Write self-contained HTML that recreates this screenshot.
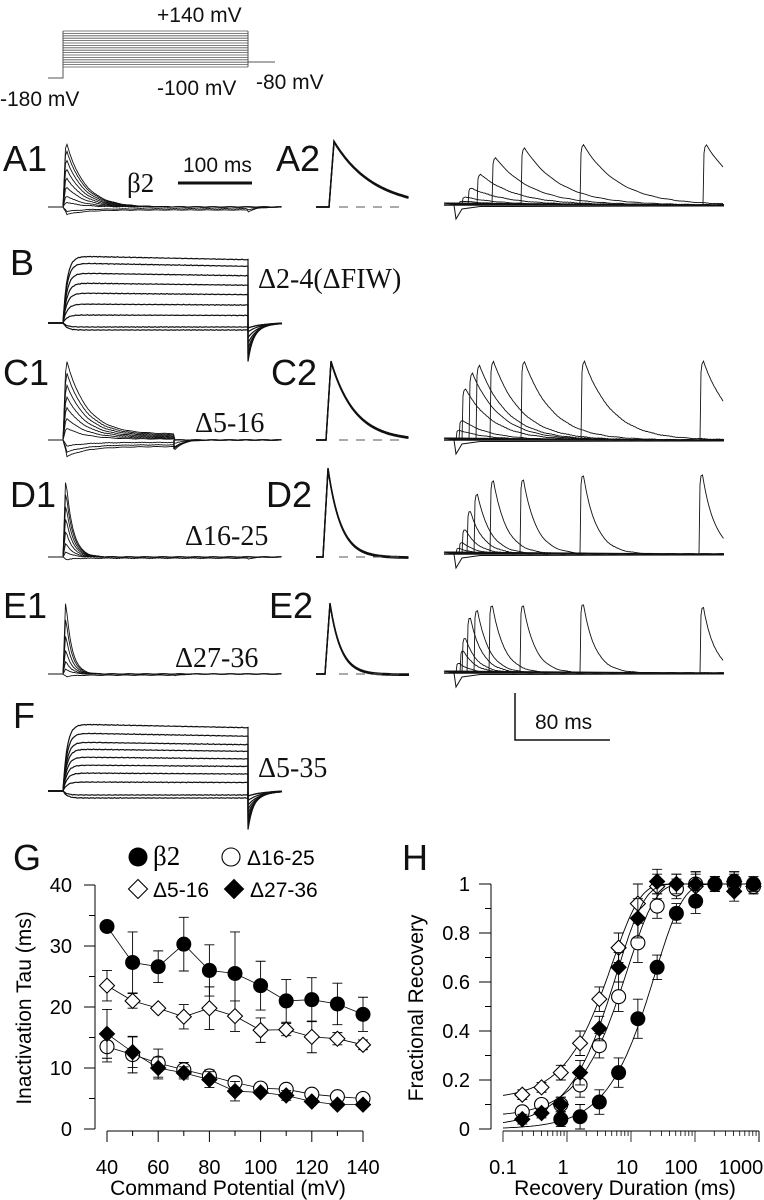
<!DOCTYPE html>
<html><head><meta charset="utf-8">
<style>
html,body{margin:0;padding:0;background:#fff;}
svg{display:block;}
.sans{font-family:"Liberation Sans",Arial,sans-serif;}
.serif{font-family:"Liberation Serif","Times New Roman",serif;}
</style></head>
<body>
<svg id="fig" width="764" height="1200" viewBox="0 0 764 1200" xmlns="http://www.w3.org/2000/svg">
<g id="traces"></g>
<g id="labels" fill="#111">
<text class="sans" x="157" y="22" font-size="21">+140 mV</text>
<text class="sans" x="0" y="106" font-size="21">-180 mV</text>
<text class="sans" x="157" y="95" font-size="21">-100 mV</text>
<text class="sans" x="256" y="89" font-size="21">-80 mV</text>
<text class="sans" x="3" y="171" font-size="36">A1</text>
<text class="sans" x="276" y="171" font-size="36">A2</text>
<text class="serif" x="127" y="192" font-size="27">β2</text>
<text class="sans" x="183" y="172" font-size="21">100 ms</text>
<text class="sans" x="10" y="275" font-size="36">B</text>
<text class="serif" x="258" y="288" font-size="28">Δ2-4(ΔFIW)</text>
<text class="sans" x="3" y="385" font-size="36">C1</text>
<text class="sans" x="271" y="385" font-size="36">C2</text>
<text class="serif" x="195" y="432" font-size="28">Δ5-16</text>
<text class="sans" x="10" y="507" font-size="36">D1</text>
<text class="sans" x="266" y="507" font-size="36">D2</text>
<text class="serif" x="185" y="545" font-size="28">Δ16-25</text>
<text class="sans" x="3" y="618" font-size="36">E1</text>
<text class="sans" x="269" y="618" font-size="36">E2</text>
<text class="serif" x="175" y="667" font-size="28">Δ27-36</text>
<text class="sans" x="13" y="728" font-size="36">F</text>
<text class="serif" x="258" y="777" font-size="28">Δ5-35</text>
<text class="sans" x="535" y="729" font-size="21">80 ms</text>
<text class="sans" x="13" y="870" font-size="36">G</text>
<text class="sans" x="402" y="870" font-size="36">H</text>
</g>
<g id="chartG"></g>
<g id="chartH"></g>
</svg>
<script>
// ---------- Chart G data ----------
const gVoltages = [40,50,60,70,80,90,100,110,120,130,140];
const gBeta2 = [33.2,27.3,26.6,30.3,26.0,25.5,23.5,21.0,21.2,20.5,18.8];
const gBeta2Err = [0,5.0,2.6,4.4,4.2,6.8,4.0,3.5,3.6,3.4,2.8];
const gD516 = [23.5,21.0,19.8,18.4,19.8,18.5,16.2,16.3,15.1,14.8,13.8];
const gD516Err = [2.5,1.2,0.5,2.0,3.5,2.5,2.0,1.0,2.6,1.0,0.8];
const gD1625 = [13.5,12.2,10.8,9.7,8.7,7.6,6.7,6.5,5.7,5.3,5.0];
const gD1625Err = [2.5,3.0,2.3,1.2,1.0,0.5,0.5,0.4,0.4,0.4,0.3];
const gD2736 = [15.6,12.6,10.0,9.2,8.1,6.2,6.0,5.5,4.5,4.0,4.0];
const gD2736Err = [4.0,2.5,1.8,1.0,1.3,1.6,0.4,0.8,0.5,0.5,0.3];
const gYTicks = [0,10,20,30,40];
const gXTicks = [40,60,80,100,120,140];
// ---------- Chart H data ----------
const hDur = [0.2,0.4,0.8,1.6,3.2,6.4,12.8,25.6,51.2,102.4,204.8,409.6,819.2,1638.4];
const hBeta2 = [null,null,0.04,0.05,0.11,0.23,0.45,0.66,0.88,0.93,1.0,1.01,1.0,1.03];
const hD516 = [0.14,0.17,0.23,0.35,0.53,0.74,0.92,0.99,1.0,0.99,1.0,1.01,0.99,null];
const hD1625 = [0.07,0.10,0.10,0.18,0.34,0.54,0.76,0.91,0.98,1.0,1.0,1.0,0.99,null];
const hD2736 = [0.04,0.065,0.10,0.23,0.41,0.66,0.86,1.01,1.0,1.0,1.0,0.97,1.0,null];
const hErr = [0.02,0.02,0.03,0.05,0.05,0.06,0.08,0.05,0.04,0.05,0.03,0.04,0.03,0.02];
const hFitTau = [23.7,5.1,8.8,6.0];
const hFitStart = [0.0,0.12,0.05,0.01];
const hYTicks = [0,0.2,0.4,0.6,0.8,1];
const hXTicks = [0.1,1,10,100,1000];
const hXTickLabels = ["0.1","1","10","100","1000"];
// ---------- Trace panel parameters ----------
const trainPeaksA = [459,462,468,477,492,521,580,703];
const trainHeightsA = [4,8,17,31,48,58,61,61];
const trainPeaksC = [456,459,462,469,476,490,521,581,700];
const trainHeightsC = [10,20,52,68,76,80,80,80,80];
const trainPeaksD = [456,459,462,467,474,490,520,580,699];
const trainHeightsD = [6,12,25,44,62,76,77,81,82];
const trainPeaksE = [456,460,462,467,474,489,520,580,700];
const trainHeightsE = [10,23,36,57,65,70,70,71,68];
const stepLevelsB = [67,60,50,40,30,19,8,-4,-7];
const stepLevelsF = [67,58,49,42,34,26,18,9,-4,-7];
const inactPeaksA1 = [70,62,52,42,32,22,12,5,-3,-5];

const NS='http://www.w3.org/2000/svg';
function mk(tag, attrs, parent){const e=document.createElementNS(NS,tag);for(const k in attrs)e.setAttribute(k,attrs[k]);parent.appendChild(e);return e;}
const T=document.getElementById('traces');
function pl(pts,parent,w,col){const e=mk('polyline',{points:pts.map(p=>p[0].toFixed(1)+','+p[1].toFixed(1)).join(' '),fill:'none',stroke:col||'#111','stroke-width':w||1},parent);return e;}
function jit(i){return Math.sin(i*2.1)*0.2+Math.sin(i*0.37)*0.2;}

// Protocol
const prot=mk('g',{},T);


pl([[48,78],[63,78],[63,31]],prot,1,'#555');
for(let i=0;i<16;i++){const y=31+i*2.4;pl([[63,y],[248,y]],prot,0.8,'#555');}
pl([[248,31],[248,67]],prot,1,'#555');
pl([[248,62],[275,62]],prot,1,'#555');

// Inactivating family (A1, C1, D1, E1)
function inactFamily(base,peaks,tau,sustain,stepEnd,name){
  const g=mk('g',{},T);
  
  
  peaks.forEach((h,k)=>{
    const pts=[[48,base],[63,base]];
    for(let x=64;x<=282;x+=1.5){
      let y;
      if(x<=stepEnd){y=base-(h*Math.exp(-(x-65)/tau)+(h>0?sustain*h/80:h*0.6));if(x<66)y=base-h*(x-63)/3;}
      else y=base+(h>0?0:-h*Math.exp(-(x-stepEnd)/8));
      pts.push([x,y+jit(x+k)]);
    }
    pl(pts,g,0.9);
  });
}
inactFamily(207,inactPeaksA1,18,0,248,'trace-a1');
inactFamily(440,[80,68,56,44,33,22,12,-4,-8,-11],20,6,174,'trace-c1');
inactFamily(557,[89,75,60,45,30,16,6,-2],7,0,248,'trace-d1');
inactFamily(674,[84,65,45,28,15,6,-2],6,0,174,'trace-e1');
pl([[174,440],[174,448],[180,444],[190,441]],T,1.5);

// Non-inactivating (B, F)
function stepFamily(base,levels,stepEnd,name){
  const g=mk('g',{},T);
  
  
  levels.forEach((h,k)=>{
    const pts=[[48,base],[63,base]];
    for(let x=63.5;x<=stepEnd;x+=1.5)pts.push([x,base-h*(1-Math.exp(-(x-63)/4))*(1-(x-63)*0.0003*(h>0?1:0))+jit(x*3+k)]);
    pts.push([stepEnd,base]);
    const a=Math.max(h,0)*0.5+5;
    pts.push([stepEnd,base+a]);
    for(let x=stepEnd+1;x<=282;x+=1.5)pts.push([x,base+a*Math.exp(-(x-stepEnd)/(6+k))]);
    pl(pts,g,1.2);
  });
}
stepFamily(323,stepLevelsB,248,'trace-b');
stepFamily(791,stepLevelsF,248,'trace-f');

// Single recovery test pulses (A2, C2, D2, E2)
function single(base,x0,h,tau,name){
  const g=mk('g',{},T);
  
  
  for(let k=0;k<3;k++){
    const pts=[[316,base],[x0,base]];
    for(let x=x0;x<=x0+5;x+=1)pts.push([x,base-h*(x-x0)/5*(1-k*0.01)]);
    for(let x=x0+6;x<=409;x+=1.5)pts.push([x,base-h*Math.exp(-(x-x0-5)/tau)+k*0.7]);
    pl(pts,g,1.4);
  }
  mk('line',{x1:339,y1:base,x2:400,y2:base,stroke:'#555','stroke-width':1,'stroke-dasharray':'9 8'},g);
}
single(207,329,66,40,'trace-a2');
single(440,326,79,24,'trace-c2');
single(557,323,89,13,'trace-d2');
single(674,325,71,11,'trace-e2');

// Recovery trains
function train(base,peaks,heights,tau,name){
  const g=mk('g',{},T);
  
  
  pl([[444,base],[724,base]],g,1.6);
  pl([[454,base],[456,base+14],[462,base+4],[480,base+1.5],[724,base+1]],g,1);
  peaks.forEach((p,i)=>{
    const h=heights[i];
    const pts=[[444,base-2],[p,base]];
    pts.push([p+1,base-h*0.85]);
    for(let x=p+2;x<=724;x+=1.5){const d=x-p-3;pts.push([x,base-h*(d<0?0.95:Math.exp(-d/tau))+jit(x+i)]);}
    pl(pts,g,0.9);
  });
}
train(205,trainPeaksA,trainHeightsA,36,'train-a2');
train(440,trainPeaksC,trainHeightsC,28,'train-c2');
train(554,trainPeaksD,trainHeightsD,13,'train-d2');
train(673,trainPeaksE,trainHeightsE,12,'train-e2');

// Scale bars
mk('line',{x1:178,y1:183,x2:252,y2:183,stroke:'#111','stroke-width':3},T);
mk('polyline',{points:'515,693 515,740 610,740',fill:'none',stroke:'#111','stroke-width':1.5},T);

// ---------- marker helper ----------
function marker(parent,type,x,y,s){
  s=s||7.5;let e;
  if(type==='fc')e=mk('circle',{cx:x,cy:y,r:s,fill:'#000'},parent);
  else if(type==='oc')e=mk('circle',{cx:x,cy:y,r:s-0.5,fill:'#fff',stroke:'#000','stroke-width':1.1},parent);
  else {e=mk('polygon',{points:`${x},${y-s} ${x+s},${y} ${x},${y+s} ${x-s},${y}`,fill:type==='fd'?'#000':'#fff',stroke:'#000','stroke-width':1.1},parent);}
  return e;
}

// ---------- Chart G ----------
const G=document.getElementById('chartG');
const xG=v=>107+(v-40)*2.56, yG=v=>1129-v*6.1;
mk('line',{x1:95,y1:yG(40),x2:95,y2:yG(0),stroke:'#000'},G);
for(let v=0;v<=40;v+=5)mk('line',{x1:v%10?89:84,y1:yG(v),x2:95,y2:yG(v),stroke:'#000'},G);
gYTicks.forEach(v=>{const t=mk('text',{x:72,y:yG(v)+7,'text-anchor':'end','font-size':20,class:'sans'},G);t.textContent=v;});
mk('line',{x1:xG(40),y1:1131,x2:xG(140),y2:1131,stroke:'#000'},G);
for(let v=40;v<=140;v+=10)mk('line',{x1:xG(v),y1:1131,x2:xG(v),y2:v%20?1136:1142,stroke:'#000'},G);
gXTicks.forEach(v=>{const t=mk('text',{x:xG(v),y:1174,'text-anchor':'middle','font-size':20,class:'sans'},G);t.textContent=v;});
let gt=mk('text',{x:228,y:1195,'text-anchor':'middle','font-size':21,class:'sans'},G);gt.textContent='Command Potential (mV)';


gt=mk('text',{x:0,y:0,'text-anchor':'middle','font-size':21,class:'sans',transform:'translate(31,1008) rotate(-90)'},G);gt.textContent='Inactivation Tau (ms)';


function gSeries(vals,errs,type,name){
  const s=mk('g',{},G);
  
  
  pl(gVoltages.map((v,i)=>[xG(v),yG(vals[i])]),s,0.8,'#000');
  gVoltages.forEach((v,i)=>{if(errs[i]>0){const x=xG(v);mk('path',{d:`M${x},${yG(vals[i]-errs[i])}V${yG(vals[i]+errs[i])}M${x-5},${yG(vals[i]-errs[i])}h10M${x-5},${yG(vals[i]+errs[i])}h10`,stroke:'#000','stroke-width':0.9,fill:'none'},s);}});
  gVoltages.forEach((v,i)=>{const m=marker(s,type,xG(v),yG(vals[i]));});
}
gSeries(gBeta2,gBeta2Err,'fc','g-series-beta2');
gSeries(gD516,gD516Err,'od','g-series-d5-16');
gSeries(gD1625,gD1625Err,'oc','g-series-d16-25');
gSeries(gD2736,gD2736Err,'fd','g-series-d27-36');
// legend
const lg=mk('g',{},G);


[['fc',138,857,'β2',153,'serif'],['oc',231,857,'Δ16-25',247,'sans'],['od',138,889,'Δ5-16',153,'sans'],['fd',234,889,'Δ27-36',250,'sans']].forEach(a=>{
  const m=marker(lg,a[0],a[1],a[2],9.5);
  
  const t=mk('text',{x:a[4],y:a[2]+8,'font-size':a[5]==='serif'?27:21,class:a[5]},lg);t.textContent=a[3];
  
  
});

// ---------- Chart H ----------
const H=document.getElementById('chartH');
const xH=v=>503+(Math.log10(v)+1)*64, yH=v=>1129-v*245;
mk('line',{x1:491,y1:yH(1),x2:491,y2:yH(0),stroke:'#000'},H);
for(let i=0;i<=10;i++){const v=i/10;mk('line',{x1:i%2?485:479,y1:yH(v),x2:491,y2:yH(v),stroke:'#000'},H);}
hYTicks.forEach(v=>{const t=mk('text',{x:470,y:yH(v)+7,'text-anchor':'end','font-size':20,class:'sans'},H);t.textContent=v;});
mk('line',{x1:xH(0.1),y1:1131,x2:xH(1000),y2:1131,stroke:'#000'},H);
for(let d=-1;d<3;d++)for(let m=1;m<10;m++){const v=m*Math.pow(10,d);mk('line',{x1:xH(v),y1:1131,x2:xH(v),y2:m===1?1142:1136,stroke:'#000','stroke-width':0.8},H);}
mk('line',{x1:xH(1000),y1:1131,x2:xH(1000),y2:1142,stroke:'#000'},H);
const hLabelNudge=[0,-4,-4,-14,-18];
hXTicks.forEach((v,i)=>{const t=mk('text',{x:xH(v)+hLabelNudge[i],y:1174,'text-anchor':'middle','font-size':20,class:'sans'},H);t.textContent=hXTickLabels[i];});
gt=mk('text',{x:625,y:1195,'text-anchor':'middle','font-size':21,class:'sans'},H);gt.textContent='Recovery Duration (ms)';


gt=mk('text',{x:0,y:0,'text-anchor':'middle','font-size':21,class:'sans',transform:'translate(423,1008) rotate(-90)'},H);gt.textContent='Fractional Recovery';


function hSeries(vals,type,k,name){
  const s=mk('g',{},H);
  
  
  const pts=[];
  for(let lx=-1;lx<=3.0001;lx+=0.02){const t=Math.pow(10,lx);pts.push([xH(t),yH(1-(1-hFitStart[k])*Math.exp(-t/hFitTau[k]))]);}
  pl(pts,s,0.9,'#000');
  hDur.forEach((d,i)=>{if(vals[i]==null)return;const x=xH(d),e=hErr[i];mk('path',{d:`M${x},${yH(vals[i]-e)}V${yH(vals[i]+e)}M${x-5},${yH(vals[i]-e)}h10M${x-5},${yH(vals[i]+e)}h10`,stroke:'#000','stroke-width':0.9,fill:'none'},s);});
  hDur.forEach((d,i)=>{if(vals[i]==null)return;const m=marker(s,type,xH(d),yH(vals[i]));});
}
hSeries(hD516,'od',1,'h-series-d5-16');
hSeries(hD1625,'oc',2,'h-series-d16-25');
hSeries(hD2736,'fd',3,'h-series-d27-36');
hSeries(hBeta2,'fc',0,'h-series-beta2');
</script>
</body></html>
